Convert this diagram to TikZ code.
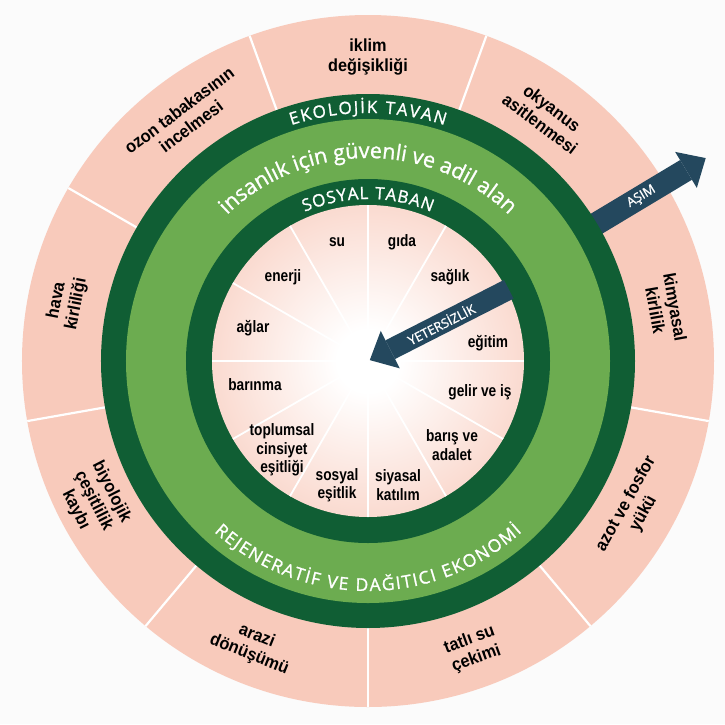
\documentclass[tikz,border=0pt]{standalone}
\usepackage{fontspec}
\setmainfont{Liberation Sans}
\newfontfamily\labelfont[FakeStretch=0.83]{Liberation Sans}
\newfontfamily\outerfont[FakeStretch=0.93]{Liberation Sans}
\newfontfamily\bandfont[FakeBold=1.2]{Open Sans}
\usetikzlibrary{arrows.meta,decorations.text}

\definecolor{ringpink}{RGB}{248,202,187}
\definecolor{darkring}{RGB}{16,94,52}
\definecolor{lightring}{RGB}{108,172,80}
\definecolor{arrowblue}{RGB}{36,72,94}
\definecolor{paper}{RGB}{251,251,251}

\pgfdeclareradialshading{innerglow}{\pgfpoint{0bp}{0bp}}{color(0bp)=(white); color(5bp)=(white); color(34bp)=(ringpink); color(50bp)=(ringpink)}

\newcommand\bandcaps{\bandfont\fontsize{17}{17}\selectfont\color{white}}
\newcommand\bandbig{\bandfont\fontsize{21.5}{21.5}\selectfont\color{white}}
\newcommand\bandlow{\bandfont\fontsize{17.5}{17.5}\selectfont\color{white}}

\begin{document}
\begin{tikzpicture}[x=1pt,y=1pt,
    lbl/.style={font=\labelfont\bfseries\fontsize{16.5}{18.5}\selectfont, align=center, inner sep=0pt},
    outerlbl/.style={font=\outerfont\bfseries\fontsize{17.5}{20}\selectfont, align=center, inner sep=0pt},
    divider/.style={draw=white, line width=2.2pt},
    bigarrow/.style={draw=arrowblue, line width=23pt, -{Triangle[length=23pt,width=42pt,line width=0pt]}},
    arrowtxt/.style={font=\bandfont\fontsize{13}{13}\selectfont, text=white, inner sep=0pt}]

    \useasboundingbox[fill=paper] (-368,-363) rectangle (357,361);

    \fill[ringpink] (0,0) circle (346);

    \draw[divider] (70:262) -- (70:346);
    \draw[divider] (110:262) -- (110:346);
    \draw[divider] (150:262) -- (150:346);
    \draw[divider] (190:262) -- (190:346);
    \draw[divider] (230:262) -- (230:346);
    \draw[divider] (270:262) -- (270:346);
    \draw[divider] (310:262) -- (310:346);
    \draw[divider] (350:262) -- (350:346);
    \draw[divider] (30:262) -- (30:346);

    \coordinate (asimtail) at (31:250);
    \coordinate (asimtip) at (31:394);
    \draw[bigarrow] (asimtail) -- (asimtip);

    \fill[darkring] (0,0) circle (267);
    \fill[lightring] (0,0) circle (242);
    \fill[darkring] (0,0) circle (182);
    \shade[shading=innerglow] (0,0) circle (156);

    \draw[divider, line width=1.8pt] (0,0) -- (0:156);
    \draw[divider, line width=1.8pt] (0,0) -- (30:156);
    \draw[divider, line width=1.8pt] (0,0) -- (60:156);
    \draw[divider, line width=1.8pt] (0,0) -- (90:156);
    \draw[divider, line width=1.8pt] (0,0) -- (120:156);
    \draw[divider, line width=1.8pt] (0,0) -- (150:156);
    \draw[divider, line width=1.8pt] (0,0) -- (180:156);
    \draw[divider, line width=1.8pt] (0,0) -- (210:156);
    \draw[divider, line width=1.8pt] (0,0) -- (240:156);
    \draw[divider, line width=1.8pt] (0,0) -- (270:156);
    \draw[divider, line width=1.8pt] (0,0) -- (300:156);
    \draw[divider, line width=1.8pt] (0,0) -- (330:156);

    \coordinate (yetertail) at (27:158);
    \coordinate (yetertip) at (27:2);
    \draw[bigarrow, line width=21pt] (yetertail) -- (yetertip);

    \path[decorate, decoration={text along path, text={|\bandcaps|EKOLOJİK TAVAN}, text align={fit to path}}]
        (108:248) arc[start angle=108, end angle=72, radius=248];
    \path[decorate, decoration={text along path, text={|\bandbig|insanlık için güvenli ve adil alan}, text align=center}]
        (150:203) arc[start angle=150, end angle=30, radius=203];
    \path[decorate, decoration={text along path, text={|\bandcaps|SOSYAL TABAN}, text align={fit to path}}]
        (113:162) arc[start angle=113, end angle=67, radius=162];
    \path[decorate, decoration={text along path, text={|\bandlow|REJENERATİF VE DAĞITICI EKONOMİ}, text align={fit to path}}]
        (228:230) arc[start angle=228, end angle=312, radius=230];

    \node[outerlbl] (iklim) at (90:304) {iklim\\değişikliği};
    \node[outerlbl, rotate=-37] (okyanus) at (54:303) {okyanus\\asitlenmesi};
    \node[outerlbl, rotate=-80] (kimyasal) at (10:302) {kimyasal\\kirlilik};
    \node[outerlbl, rotate=61] (azot) at (-29:305) {azot ve fosfor\\yükü};
    \node[outerlbl, rotate=20] (tatlisu) at (-70:307) {tatlı su\\çekimi};
    \node[outerlbl, rotate=-22] (arazi) at (-112:307) {arazi\\dönüşümü};
    \node[outerlbl, rotate=-63] (biyo) at (-153:308) {biyolojik\\çeşitlilik\\kaybı};
    \node[outerlbl, rotate=79] (hava) at (169:307) {hava\\kirliliği};
    \node[outerlbl, rotate=37] (ozon) at (127:304) {ozon tabakasının\\incelmesi};

    \node[lbl] (su) at (-31,119) {su};
    \node[lbl] (gida) at (34,119) {gıda};
    \node[lbl] (enerji) at (-85,84) {enerji};
    \node[lbl] (saglik) at (82,84) {sağlık};
    \node[lbl] (aglar) at (-115,33) {ağlar};
    \node[lbl] (egitim) at (120,18) {eğitim};
    \node[lbl] (barinma) at (-113,-24) {barınma};
    \node[lbl] (gelir) at (112,-31) {gelir ve iş};
    \node[lbl] (cinsiyet) at (-86,-89) {toplumsal\\cinsiyet\\eşitliği};
    \node[lbl] (baris) at (84,-84) {barış ve\\adalet};
    \node[lbl] (sosyal) at (-31,-124) {sosyal\\eşitlik};
    \node[lbl] (siyasal) at (30,-124) {siyasal\\katılım};

    \node[arrowtxt, rotate=31] (asimlbl) at (31:319) {AŞIM};
    \node[arrowtxt, rotate=27] (yeterlbl) at (27:82) {YETERSİZLİK};
\end{tikzpicture}
\end{document}
